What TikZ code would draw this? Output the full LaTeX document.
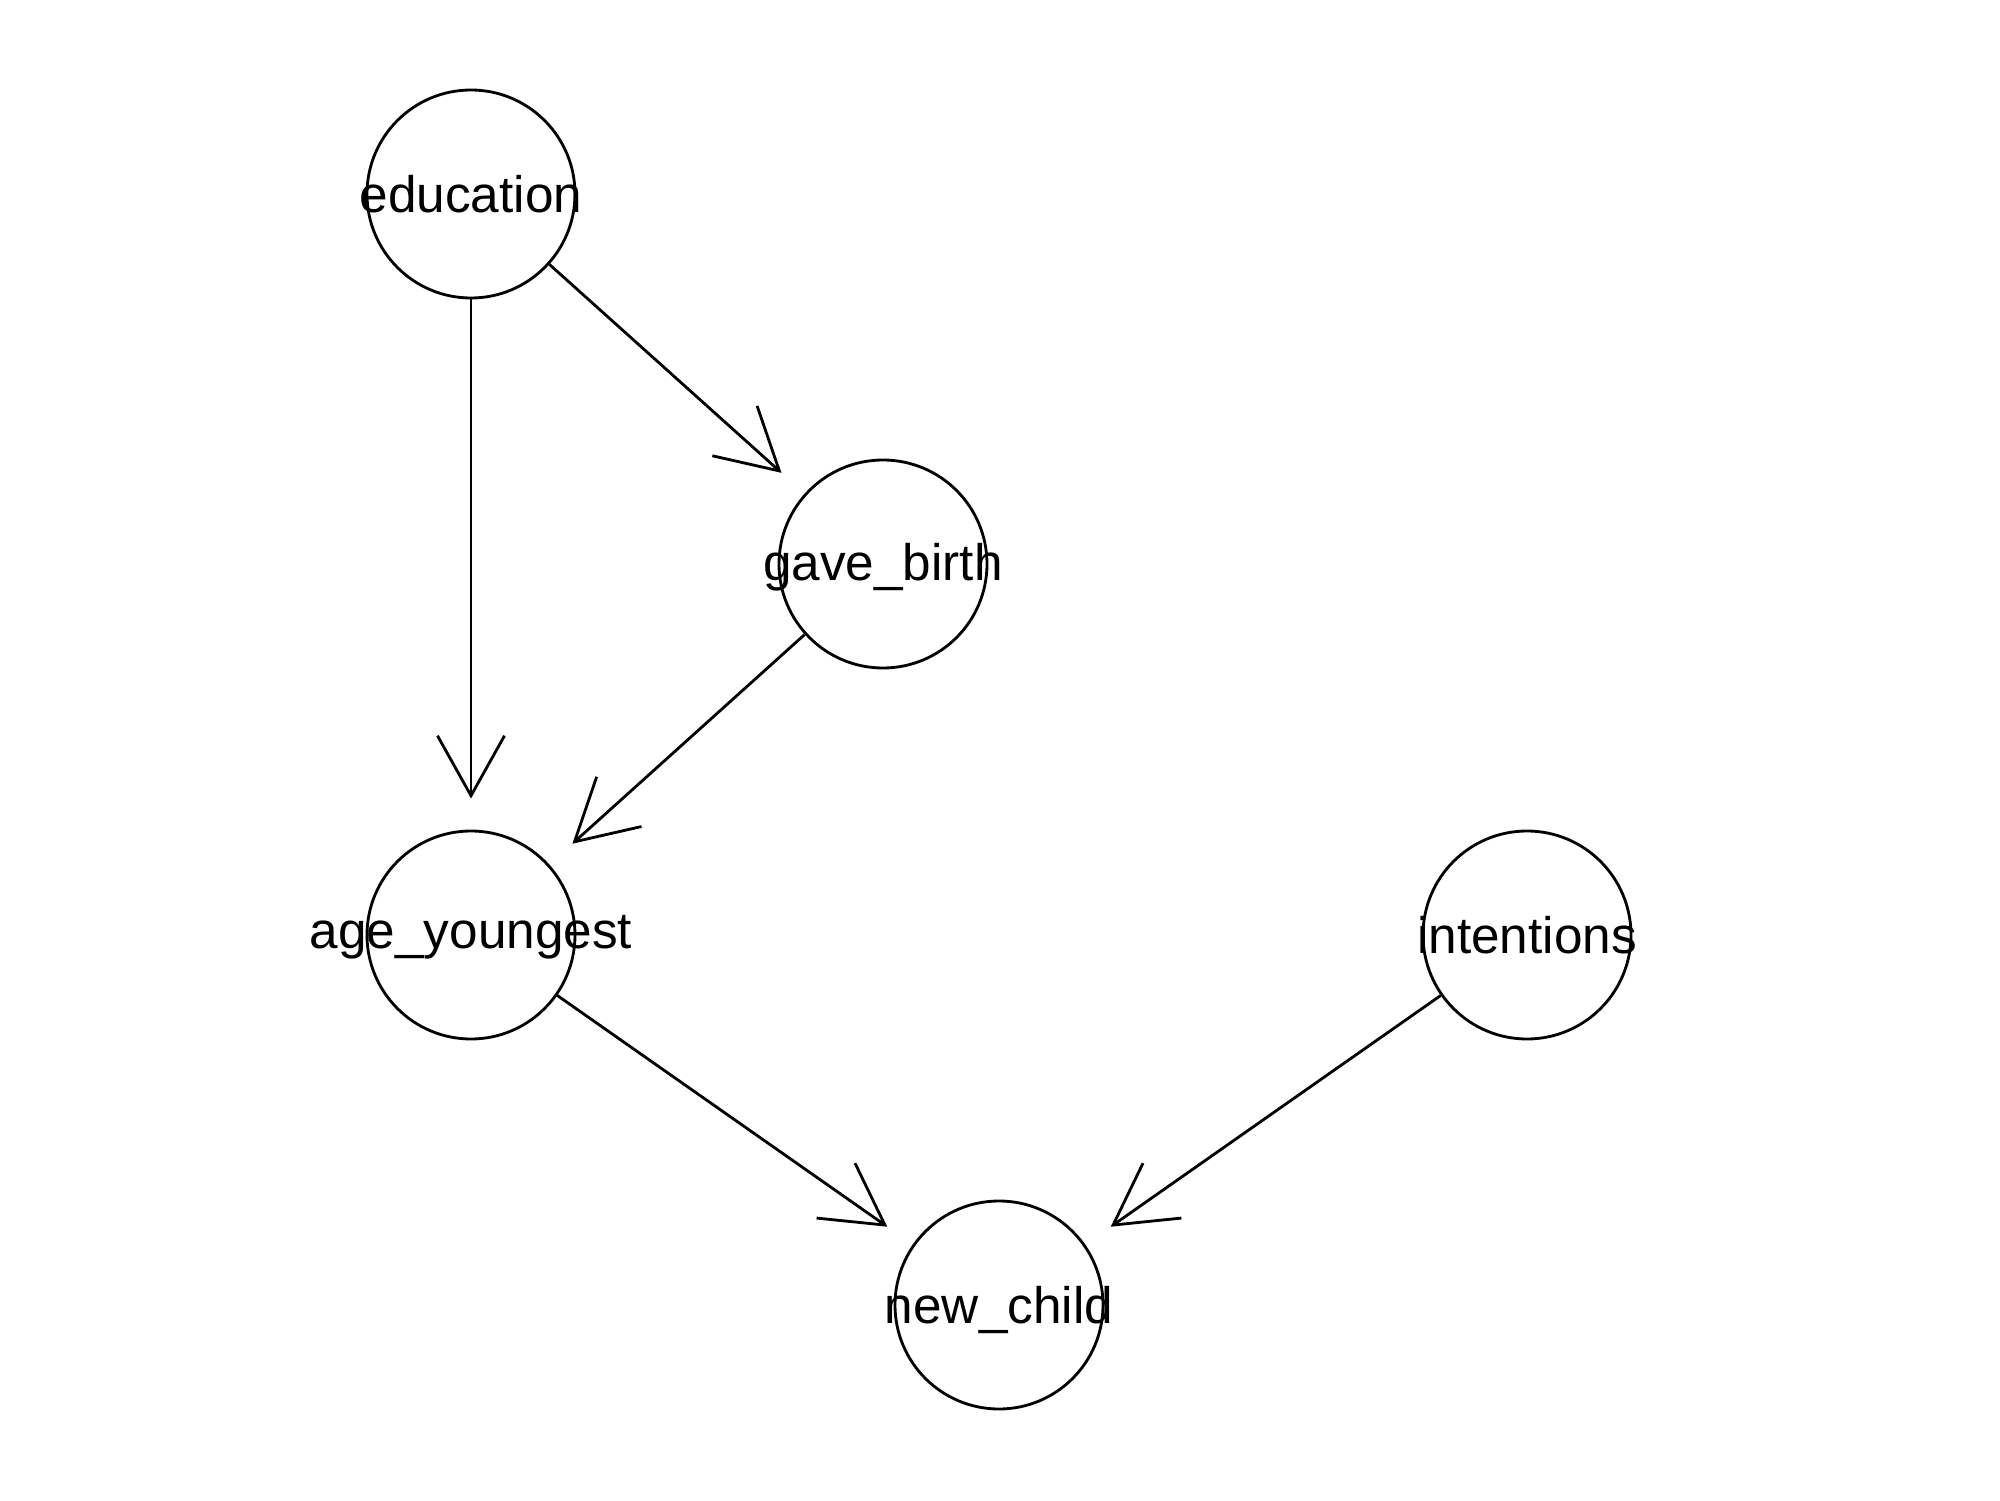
\documentclass[tikz,border=0pt]{standalone}
\usepackage{fontspec}
\setmainfont{Liberation Sans}
\usetikzlibrary{arrows.meta}

\begin{document}
\begin{tikzpicture}[
    font=\fontsize{14.6}{17}\selectfont,
    var/.style={circle, draw, line width=0.8pt, minimum size=2.08cm,
        inner sep=0pt, text depth=0pt},
    edge/.style={line width=0.8pt,
        -{Straight Barb[length=6mm, width=6.7mm, line cap=butt]},
        shorten >=0.31cm}
]

%% Rozmery obrázka
\useasboundingbox (0,0) rectangle (20,15);

%% Uzly siete
\node[var] (edu) at (4.71, 13.06) {};
\node[var] (gb)  at (8.83, 9.36)  {};
\node[var] (ay)  at (4.71, 5.65)  {};
\node[var] (int) at (15.27, 5.65) {};
\node[var] (nc)  at (9.99, 1.95)  {};

%% Popisy uzlov
\foreach \nm/\txt/\dy in {edu/education/0, gb/gave\_birth/0.02,
    ay/age\_youngest/0.03, int/intentions/0, nc/new\_child/0} {
    \node[text depth=0pt, inner sep=0pt] at ([yshift=\dy cm]\nm) {\txt};
}

%% Hrany
\foreach \a/\b in {edu/ay, edu/gb, gb/ay, ay/nc, int/nc} {
    \draw[edge] (\a) -- (\b);
}

\end{tikzpicture}
\end{document}
